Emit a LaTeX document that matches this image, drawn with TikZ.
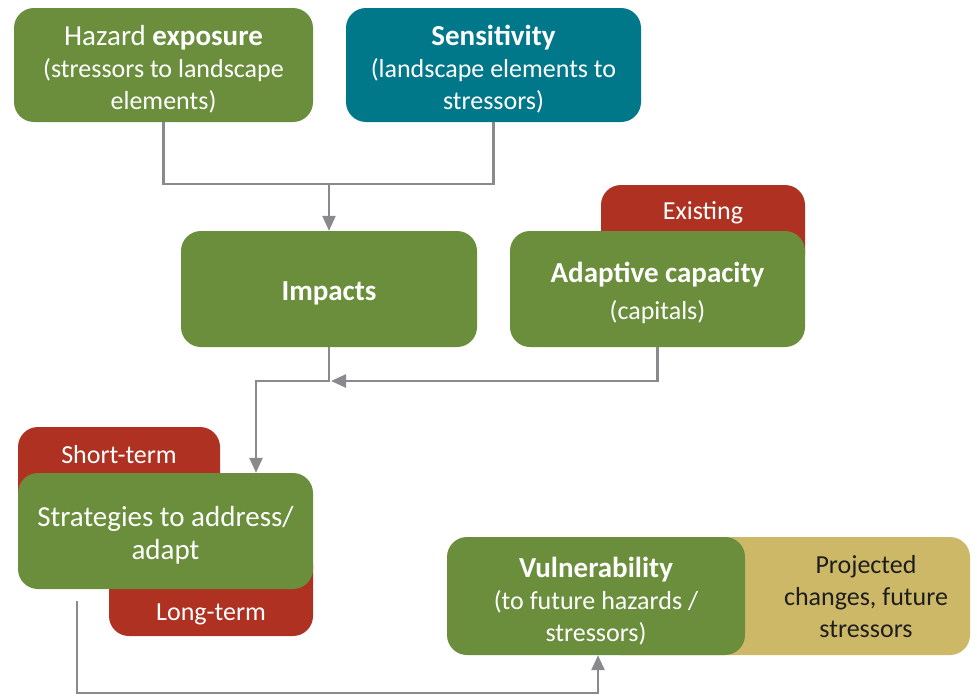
\documentclass[tikz,border=0pt]{standalone}
\usepackage{fontspec}
\setmainfont{Carlito}
\usetikzlibrary{arrows.meta}
\definecolor{cgreen}{RGB}{106,142,59}
\definecolor{cteal}{RGB}{0,120,138}
\definecolor{cred}{RGB}{174,49,33}
\definecolor{ctan}{RGB}{205,184,104}
\definecolor{cline}{RGB}{138,138,142}
\definecolor{ctext}{RGB}{30,30,30}
\newcommand{\ttl}[1]{{\fontsize{29}{32}\selectfont\bfseries #1}}
\begin{document}
\begin{tikzpicture}[x=1pt,y=-1pt,
  box/.style={rounded corners=20pt, inner sep=0pt},
  greenbox/.style={box, fill=cgreen},
  tealbox/.style={box, fill=cteal},
  redbox/.style={box, fill=cred},
  tanbox/.style={box, fill=ctan},
  lbl/.style={inner sep=0pt, align=center, text=white, font=\fontsize{26}{32}\selectfont},
  dlbl/.style={lbl, text=ctext},
  conn/.style={draw=cline, line width=2.5pt},
  arr/.style={conn, -{Triangle[width=13pt,length=15pt]}}
]
\useasboundingbox (0,0) rectangle (979,696);

% top row
\node[greenbox, minimum width=299pt, minimum height=114pt] (hazard) at (163.5,65) {};
\node[lbl] (hazardtxt) at (163.5,69)
  {{\fontsize{29}{32}\selectfont Hazard \textbf{exposure}}\\(stressors to landscape\\elements)};
\node[tealbox, minimum width=295pt, minimum height=114pt] (sensitivity) at (493.5,65) {};
\node[lbl] (sensitivitytxt) at (493.5,69)
  {\ttl{Sensitivity}\\(landscape elements to\\stressors)};

% middle row
\node[greenbox, minimum width=296pt, minimum height=116pt] (impacts) at (329,289) {};
\node[lbl] (impactstxt) at (329,293) {\ttl{Impacts}};
\node[redbox, minimum width=204pt, minimum height=90pt] (existing) at (703,230) {};
\node[lbl] (existingtxt) at (703,213) {Existing};
\node[greenbox, minimum width=295pt, minimum height=116pt] (adaptive) at (657.5,289) {};
\node[lbl] (adaptivetxt) at (657.5,293) {\ttl{Adaptive capacity}\\[5pt](capitals)};

% strategies
\node[redbox, minimum width=202pt, minimum height=92pt] (short) at (119,473) {};
\node[lbl] (shorttxt) at (119,455) {Short-term};
\node[redbox, minimum width=204pt, minimum height=91pt] (long) at (211,590.5) {};
\node[lbl] (longtxt) at (211,614) {Long-term};
\node[greenbox, minimum width=295pt, minimum height=116pt] (strategies) at (165.5,531) {};
\node[lbl, font=\fontsize{29}{33}\selectfont] (strategiestxt) at (165.5,535)
  {Strategies to address/\\adapt};

% vulnerability
\node[tanbox, minimum width=370pt, minimum height=118pt] (projected) at (785,596) {};
\node[dlbl] (projtxt) at (866,597) {Projected\\changes, future\\stressors};
\node[greenbox, minimum width=298pt, minimum height=118pt] (vuln) at (596,596) {};
\node[lbl] (vulntxt) at (596,601)
  {\ttl{Vulnerability}\\(to future hazards /\\stressors)};

% connectors
\coordinate (j1) at (329,184);
\draw[conn] (hazard.south) |- (j1) -| (sensitivity.south);
\draw[arr] (j1) -- (impacts.north);

\coordinate (j2) at (329,381);
\coordinate (j2r) at (331,381);
\coordinate (j3) at (256,381);
\draw[arr] (adaptive.south) |- (j2r);
\draw[arr] (impacts.south) -- (j2) -- (j3) -- (j3 |- strategies.north);

\coordinate (s0) at (77,601);
\coordinate (j4) at (598,693);
\draw[arr] (s0) |- (j4) -- (j4 |- vuln.south);
\end{tikzpicture}
\end{document}
